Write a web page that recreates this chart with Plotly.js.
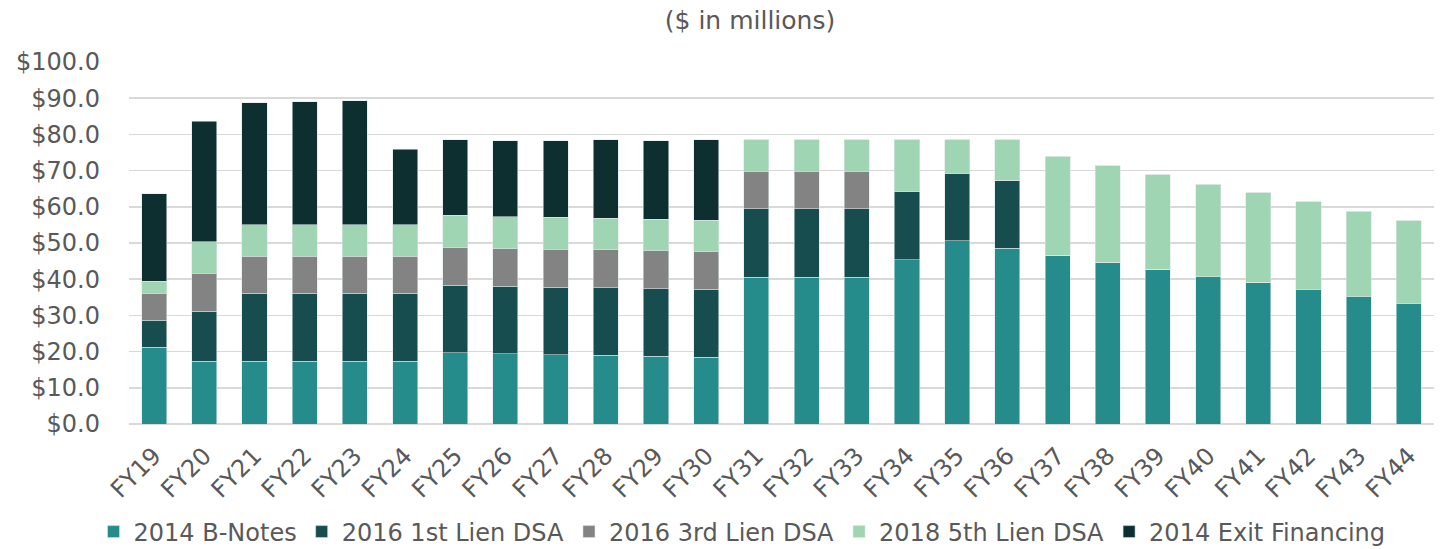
<!DOCTYPE html>
<html>
<head>
<meta charset="utf-8">
<script src="https://cdn.plot.ly/plotly-3.0.1.min.js"></script>
<style>html,body{margin:0;padding:0;background:#fff;}#chart{width:1440px;height:549px;}</style>
</head>
<body>
<div id="chart"></div>
<script>
const categories = ["FY19","FY20","FY21","FY22","FY23","FY24","FY25","FY26","FY27","FY28","FY29","FY30","FY31","FY32","FY33","FY34","FY35","FY36","FY37","FY38","FY39","FY40","FY41","FY42","FY43","FY44"];
const bNotes2014 = [21.2,17.3,17.3,17.3,17.3,17.3,19.7,19.4,19.2,19.0,18.7,18.4,40.6,40.6,40.6,45.4,50.6,48.6,46.6,44.7,42.7,40.7,39.1,37.1,35.1,33.2];
const firstLien2016 = [7.5,13.9,18.8,18.8,18.8,18.8,18.6,18.7,18.6,18.7,18.7,18.8,18.8,18.8,18.8,18.7,18.6,18.7,0,0,0,0,0,0,0,0];
const thirdLien2016 = [7.4,10.5,10.2,10.2,10.2,10.2,10.4,10.3,10.5,10.5,10.5,10.4,10.4,10.4,10.4,0,0,0,0,0,0,0,0,0,0,0];
const fifthLien2018 = [3.4,8.7,8.7,8.7,8.7,8.7,8.9,8.9,8.8,8.7,8.7,8.7,8.7,8.7,8.7,14.4,9.3,11.2,27.4,26.7,26.1,25.5,24.8,24.3,23.7,23.0];
const exitFinancing2014 = [24.1,33.3,33.7,34.0,34.3,20.9,20.9,21.0,21.2,21.6,21.7,22.2,0,0,0,0,0,0,0,0,0,0,0,0,0,0];
const seriesNames = ["2014 B-Notes","2016 1st Lien DSA","2016 3rd Lien DSA","2018 5th Lien DSA","2014 Exit Financing"];
const seriesColors = ["#268B8B","#174D4F","#838383","#A0D5B3","#0E2F30"];
const seriesValues = [bNotes2014, firstLien2016, thirdLien2016, fifthLien2018, exitFinancing2014];

const traces = seriesValues.map((vals, i) => ({
  type: 'bar',
  name: seriesNames[i],
  x: categories,
  y: vals,
  marker: {color: seriesColors[i], line: {color: 'rgba(220,230,230,0.8)', width: 0.7}},
  hoverinfo: 'x+y+name'
}));

const FONT = 'DejaVu Sans, Liberation Sans, Arial, sans-serif';

const layout = {
  width: 1440, height: 549,
  barmode: 'stack',
  bargap: 0.5,
  paper_bgcolor: '#fff', plot_bgcolor: '#fff',
  font: {family: FONT, color: '#595959', size: 22},
  margin: {l: 129, r: 6, t: 62, b: 125},
  title: {text: '($ in millions)', font: {family: FONT, size: 25, color: '#595959'}, x: 750/1440, xref: 'container', xanchor: 'center', y: 1 - 20/549, yref: 'container', yanchor: 'middle'},
  xaxis: {
    tickangle: -45, tickfont: {family: FONT, size: 24, color: '#595959'},
    showgrid: false, zeroline: false, showline: false, ticks: '',
    ticklabelstandoff: 12
  },
  yaxis: {
    range: [0, 100], dtick: 10, tick0: 0,
    tickprefix: '$', tickformat: '.1f',
    tickfont: {family: FONT, size: 24, color: '#595959'},
    showgrid: true, gridcolor: '#d9d9d9', gridwidth: 1.5,
    zeroline: true, zerolinecolor: '#d9d9d9', zerolinewidth: 1.5,
    showline: false, ticks: '', ticklen: 0,
    ticklabelstandoff: 28
  },
  legend: {
    orientation: 'h', x: 742/1440, xanchor: 'center', xref: 'container',
    y: 17/549, yref: 'container', yanchor: 'middle',
    font: {family: FONT, size: 24, color: '#595959'}, traceorder: 'normal'
  },
  showlegend: true
};

Plotly.newPlot('chart', traces, layout, {displayModeBar: false, staticPlot: true});
</script>
</body>
</html>
